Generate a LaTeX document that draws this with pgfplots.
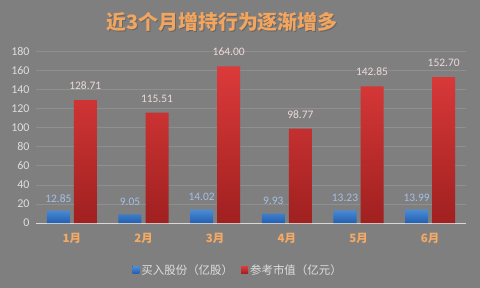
\documentclass[border=0pt]{standalone}
\usepackage{pgfplots}
\pgfplotsset{compat=1.18}
\usepackage{fontspec}
\setmainfont{Carlito}
\newfontfamily\cjk{Noto Sans CJK SC}
\definecolor{bg}{RGB}{127,127,127}
\definecolor{gridc}{RGB}{143,143,143}
\definecolor{axisc}{RGB}{217,217,217}
\definecolor{tickc}{RGB}{222,222,222}
\definecolor{titlec}{RGB}{242,165,95}
\definecolor{catc}{RGB}{244,170,100}
\definecolor{blueTop}{RGB}{75,140,215}
\definecolor{blueBot}{RGB}{35,95,175}
\definecolor{redTop}{RGB}{220,58,58}
\definecolor{redBot}{RGB}{160,32,32}
\definecolor{bluelab}{RGB}{165,190,230}
\definecolor{redlab}{RGB}{238,218,218}
\begin{document}
\begin{tikzpicture}
\fill[bg] (0bp,0bp) rectangle (480bp,288bp);
\node[text=black!60, font=\cjk\bfseries\fontsize{20}{23}\selectfont] at (223bp,265bp) {近3个月增持行为逐渐增多};
\node[text=titlec, font=\cjk\bfseries\fontsize{20}{23}\selectfont] at (222bp,266bp) {近3个月增持行为逐渐增多};
\begin{axis}[
  at={(36bp,65bp)}, anchor=south west,
  scale only axis, width=430bp, height=172bp,
  xmin=-0.5, xmax=5.5, ymin=0, ymax=180,
  ytick={0,20,...,180},
  xtick={0,...,5},
  xticklabels={1月,2月,3月,4月,5月,6月},
  major tick length=0pt,
  axis y line*=left, y axis line style={draw=none},
  axis x line*=bottom, x axis line style={color=axisc, line width=0.8pt, -},
  ymajorgrids, grid style={color=gridc, line width=0.5pt},
  /pgf/number format/assume math mode=true,
  yticklabel style={text=tickc, font=\fontsize{12}{14}\selectfont, xshift=-3bp},
  xticklabel style={text=catc, font=\cjk\bfseries\fontsize{11.5}{13}\selectfont, yshift=-7bp},
  ybar, bar width=23bp,
  nodes near coords,
  nodes near coords style={font=\fontsize{11.5}{13}\selectfont,
    /pgf/number format/fixed, /pgf/number format/fixed zerofill,
    /pgf/number format/precision=2, /pgf/number format/assume math mode=true},
  legend style={at={(0.47,-0.273)}, anchor=center, draw=none, fill=none,
    legend columns=2, text=tickc, font=\cjk\fontsize{11.5}{13}\selectfont,
    /tikz/every even column/.append style={column sep=6bp}},
  legend image code/.code={\fill[#1] (0bp,-3.5bp) rectangle (7bp,3.5bp);},
  clip=false,
]
\addplot[draw=none, bar shift=-13.5bp, top color=blueTop, bottom color=blueBot,
  nodes near coords style={text=bluelab, yshift=5bp}]
  coordinates {(0,12.85) (1,9.05) (2,14.02) (3,9.93) (4,13.23) (5,13.99)};
\addlegendentry{买入股份（亿股）}
\addplot[draw=none, bar shift=13.5bp, top color=redTop, bottom color=redBot,
  nodes near coords style={text=redlab, yshift=7bp}]
  coordinates {(0,128.71) (1,115.51) (2,164.00) (3,98.77) (4,142.85) (5,152.70)};
\addlegendentry{参考市值（亿元）}
\end{axis}
\end{tikzpicture}
\end{document}
